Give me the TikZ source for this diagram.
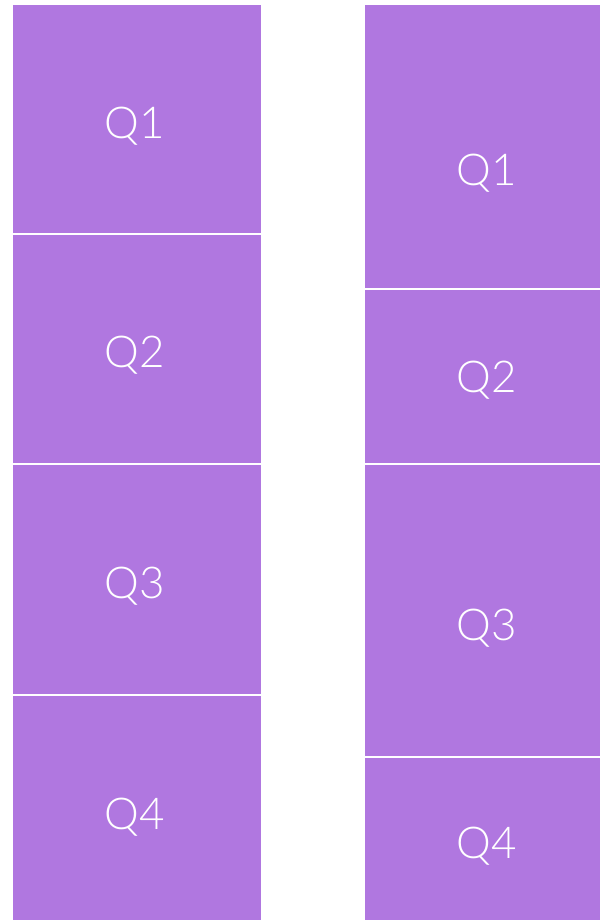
\documentclass[tikz,border=0pt]{standalone}
\usepackage{fontspec}
\setmainfont{Lato}[UprightFont={* Light}]
\definecolor{qpurple}{RGB}{176,119,224}

\begin{document}
\begin{tikzpicture}[
    x=0.02cm, y=-0.02cm,
    qbox/.style = { fill=qpurple },
    qlabel/.style = { text=white, anchor=base, inner sep=0pt,
                      font=\fontsize{25}{28}\selectfont },
    ]

    \useasboundingbox (0,0) rectangle (600,920);

    % left column: four equal quarters
    \fill[qbox] (13.4,5.3) rectangle (260.7,233);
    \fill[qbox] (13.4,235) rectangle (260.7,463);
    \fill[qbox] (13.4,465.3) rectangle (260.7,694);
    \fill[qbox] (13.4,696.3) rectangle (260.7,920);
    \node[qlabel] (lq1) at (135,138) {Q1};
    \node[qlabel] (lq2) at (135,367) {Q2};
    \node[qlabel] (lq3) at (135,598) {Q3};
    \node[qlabel] (lq4) at (135,829) {Q4};

    % right column: uneven quarters
    \fill[qbox] (365,5.3) rectangle (600,288);
    \fill[qbox] (365,290.3) rectangle (600,463);
    \fill[qbox] (365,465.3) rectangle (600,756);
    \fill[qbox] (365,758.3) rectangle (600,920);
    \node[qlabel] (rq1) at (487,185) {Q1};
    \node[qlabel] (rq2) at (487,392) {Q2};
    \node[qlabel] (rq3) at (487,640) {Q3};
    \node[qlabel] (rq4) at (487,858) {Q4};

\end{tikzpicture}
\end{document}
